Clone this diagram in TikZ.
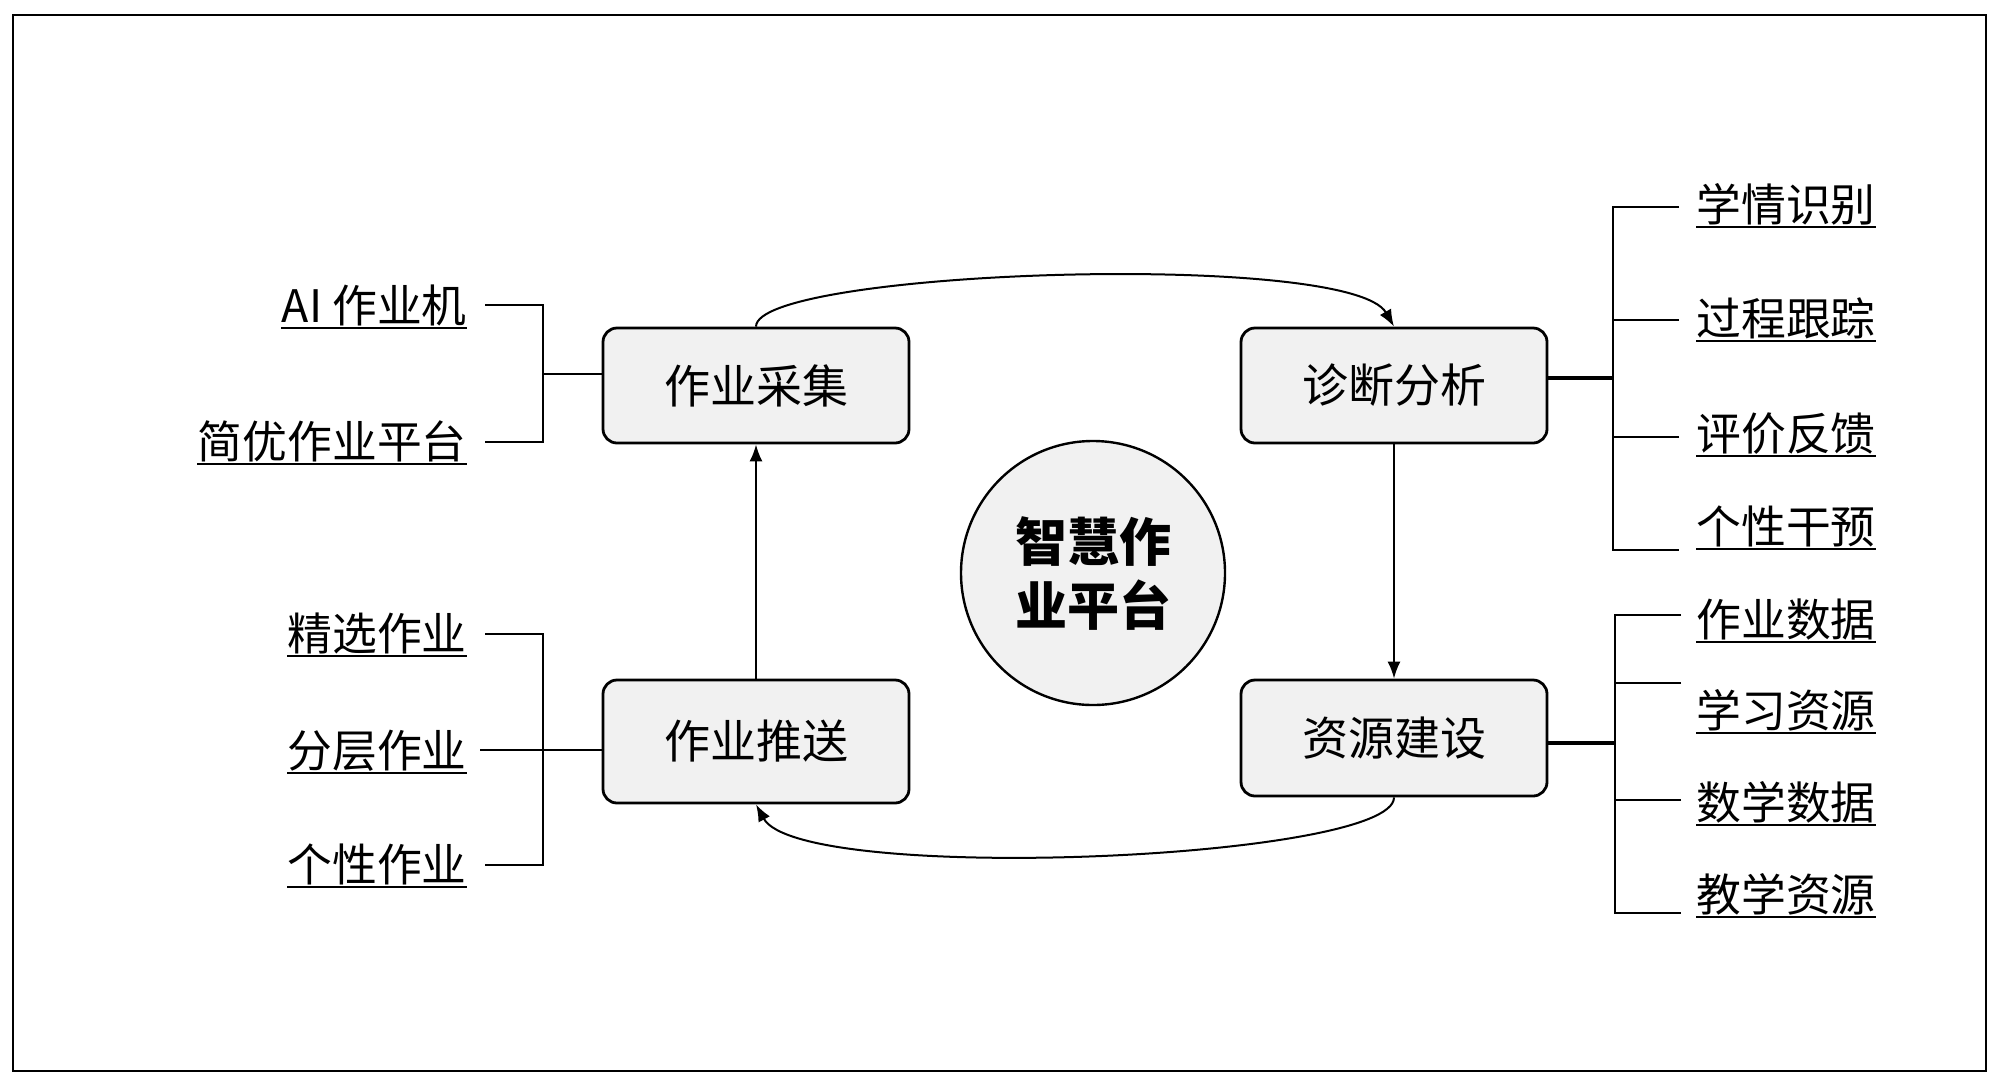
\documentclass[tikz,border=0pt]{standalone}
\usepackage{fontspec}
\setmainfont{Noto Sans CJK SC}
\usetikzlibrary{arrows.meta}
\definecolor{boxgray}{HTML}{F1F1F1}
\begin{document}
\begin{tikzpicture}[x=0.5pt,y=-0.5pt,
  box/.style={draw, line width=1.4pt, rounded corners=7pt, fill=boxgray, minimum width=153pt, inner sep=0pt, font=\fontsize{23}{27}\selectfont},
  circ/.style={draw, circle, line width=1.2pt, fill=boxgray, minimum size=132pt, inner sep=0pt, align=center, font=\bfseries\fontsize{26}{32}\selectfont},
  ul/.style={draw, line width=1pt},
  lbl/.style={inner sep=0pt, font=\fontsize{22.4}{27}\selectfont,
    append after command={([yshift=-3pt]\tikzlastnode.base west) edge[ul] ([yshift=-3pt]\tikzlastnode.base east)}},
  ln/.style={line width=1pt},
  thk/.style={line width=1.6pt},
  arr/.style={line width=1pt, -{Latex[length=8.5pt,width=6.5pt]}}
]
\path[use as bounding box, fill=white] (0,0) rectangle (2000,1088);
\draw[line width=1.2pt] (13,15) rectangle (1986,1071);

% main boxes
\node[box, minimum height=57.5pt] (cj) at (756,385.5) {作业采集};
\node[box, minimum height=57.5pt] (zd) at (1394,385.5) {诊断分析};
\node[box, minimum height=61.5pt] (ts) at (756,741.5) {作业推送};
\node[box, minimum height=58pt] (zy) at (1394,738) {资源建设};
\node[circ] (ctr) at (1093,573) {智慧作\\业平台};

% left labels
\node[lbl, anchor=base east] (l1) at (467,322) {AI 作业机};
\node[lbl, anchor=base east] (l2) at (467,458) {简优作业平台};
\node[lbl, anchor=base east] (l3) at (467,650) {精选作业};
\node[lbl, anchor=base east] (l4) at (467,767) {分层作业};
\node[lbl, anchor=base east] (l5) at (467,881) {个性作业};

% right labels
\node[lbl, anchor=base west] (r1) at (1696,221) {学情识别};
\node[lbl, anchor=base west] (r2) at (1696,335) {过程跟踪};
\node[lbl, anchor=base west] (r3) at (1696,450) {评价反馈};
\node[lbl, anchor=base west] (r4) at (1696,543) {个性干预};
\node[lbl, anchor=base west] (r5) at (1696,636) {作业数据};
\node[lbl, anchor=base west] (r6) at (1696,727) {学习资源};
\node[lbl, anchor=base west] (r7) at (1696,819) {数学数据};
\node[lbl, anchor=base west] (r8) at (1696,911) {教学资源};

% left top bracket
\coordinate (a1) at (485,305);
\coordinate (a2) at (485,442);
\coordinate (aj) at (543,374);
\draw[ln] (a1) -- (543,305) -- (543,442) -- (a2);
\draw[ln] (aj) -- (aj -| cj.west);

% left bottom bracket
\coordinate (b1) at (485,634);
\coordinate (b2) at (480,750);
\coordinate (b3) at (485,865);
\draw[ln] (b1) -- (543,634) -- (543,865) -- (b3);
\draw[ln] (b2) -- (b2 -| ts.west);

% right top bracket
\coordinate (c1) at (1679,207);
\coordinate (c2) at (1679,320);
\coordinate (c3) at (1679,437);
\coordinate (c4) at (1679,550);
\coordinate (cj2) at (1613,378);
\draw[ln] (c1) -- (1613,207) -- (1613,550) -- (c4);
\draw[ln] (c2) -- (1613,320);
\draw[ln] (c3) -- (1613,437);
\draw[thk] (cj2 -| zd.east) -- (cj2);

% right bottom bracket
\coordinate (d1) at (1681,615);
\coordinate (d2) at (1681,683);
\coordinate (d3) at (1681,800);
\coordinate (d4) at (1681,913);
\coordinate (dj) at (1615,743);
\draw[ln] (d1) -- (1615,615) -- (1615,913) -- (d4);
\draw[ln] (d2) -- (1615,683);
\draw[ln] (d3) -- (1615,800);
\draw[thk] (dj -| zy.east) -- (dj);

% cycle arrows
\draw[arr] (ts.north) -- (cj.south);
\draw[arr] (zd.south) -- (zy.north);
\draw[arr] (cj.north) .. controls (756,270) and (1350,250) .. (zd.north);
\draw[arr] (zy.south) .. controls (1394,860) and (800,885) .. (ts.south);
\end{tikzpicture}
\end{document}
